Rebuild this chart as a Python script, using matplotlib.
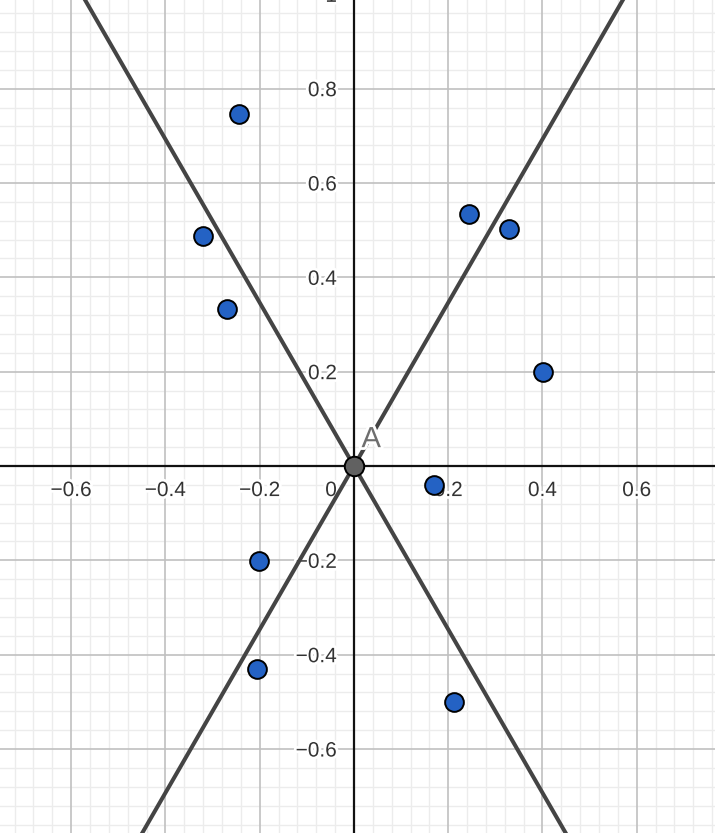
import numpy as np
import matplotlib
matplotlib.use("Agg")
import matplotlib.pyplot as plt
import matplotlib.patheffects as pe

# ── data ──────────────────────────────────────────────
PX = [-0.244, -0.320, -0.269, 0.244, 0.329, 0.401, 0.170, -0.201, -0.206, 0.212]
PY = [0.746, 0.488, 0.333, 0.534, 0.503, 0.199, -0.040, -0.201, -0.431, -0.500]
SLOPES = [np.sqrt(3), -np.sqrt(3)]
X_TICKS = [-0.6, -0.4, -0.2, 0.2, 0.4, 0.6]
Y_TICKS = [-0.6, -0.4, -0.2, 0.2, 0.4, 0.6, 0.8, 1.0]

XLIM = (-0.751, 0.766)
YLIM = (-0.778, 0.988)
FONT = "Liberation Sans"

fig = plt.figure(figsize=(7.15, 8.33), dpi=100)
ax = fig.add_axes([0, 0, 1, 1])
ax.set_xlim(*XLIM)
ax.set_ylim(*YLIM)
ax.axis("off")

# grid (minor every 0.04, major every 0.2)
minor = np.arange(-0.96, 1.0001, 0.04)
for v in minor:
    is_major = abs(round(v / 0.2) * 0.2 - v) < 1e-6
    c, lw = ("#c0c0c0", 1.2) if is_major else ("#ececec", 1.0)
    z = 1 if is_major else 0
    ax.axvline(v, color=c, lw=lw, zorder=z)
    ax.axhline(v, color=c, lw=lw, zorder=z)

# axes
ax.axhline(0, color="#111111", lw=1.6, zorder=2)
ax.axvline(0, color="#111111", lw=1.6, zorder=2)

halo = [pe.withStroke(linewidth=4, foreground="white")]
for t in X_TICKS:
    ax.text(t, -0.052, f"{t:.1f}".replace("-", "\u2212"), ha="center", va="center",
            fontsize=15, family=FONT, color="#333333", zorder=3, path_effects=halo)
for t in Y_TICKS:
    lab = "1" if t == 1.0 else f"{t:.1f}".replace("-", "\u2212")
    ax.text(-0.036, t, lab, ha="right", va="center_baseline",
            fontsize=15, family=FONT, color="#333333", zorder=3, path_effects=halo)
ax.text(-0.036, -0.052, "0", ha="right", va="center", fontsize=15, family=FONT,
        color="#333333", zorder=3, path_effects=halo)

# lines through origin
xs = np.array([-1.0, 1.0])
for m in SLOPES:
    ax.plot(xs, m * xs, color="#444444", lw=2.9, zorder=4, solid_capstyle="butt")

# points
ax.plot(PX, PY, "o", ms=13.5, mfc="#2462c4", mec="black", mew=1.4, zorder=6)
ax.plot([0], [0], "o", ms=14, mfc="#616161", mec="black", mew=1.4, zorder=6)
ax.text(0.016, 0.040, "A", fontsize=21, family=FONT, color="#6e6e6e",
        ha="left", va="baseline", zorder=7, path_effects=halo)

fig.savefig("out.png", dpi=100)
